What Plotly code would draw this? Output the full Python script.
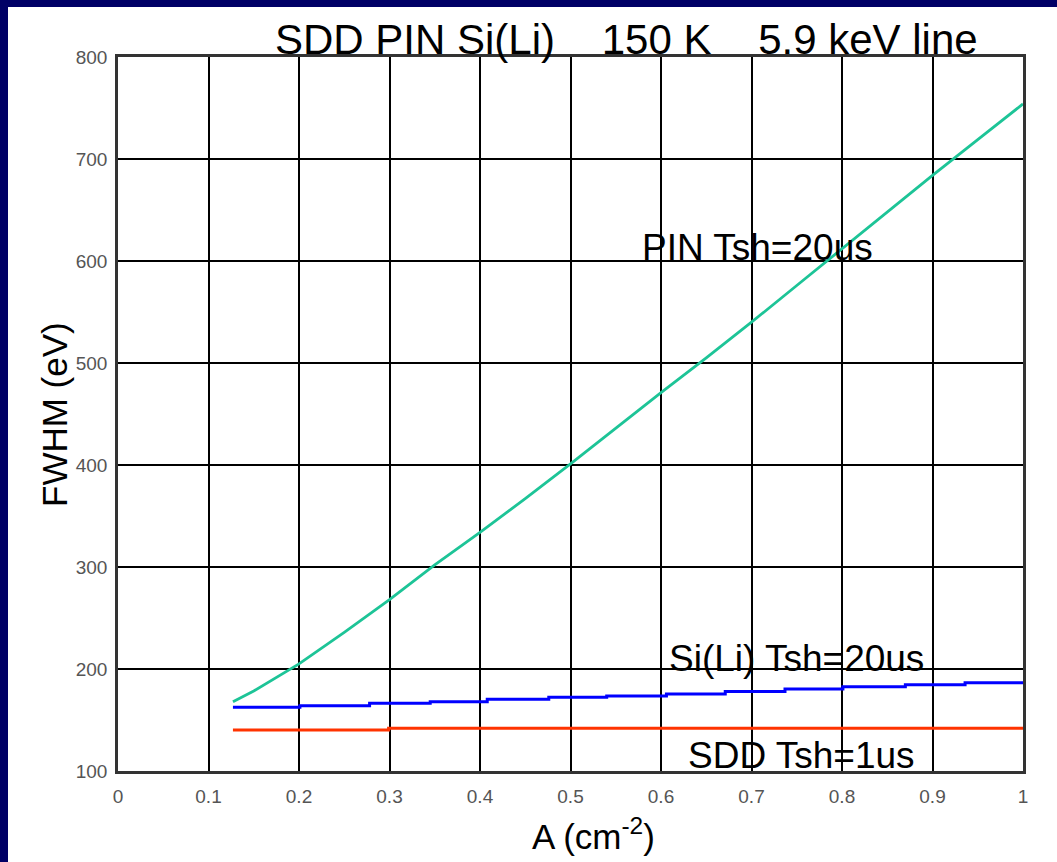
import plotly.graph_objects as go

# ---- data ----
pin_x = [0.127, 0.15, 0.2, 0.25, 0.3, 0.35, 0.4, 0.45, 0.5, 0.55, 0.6, 0.65, 0.7, 0.75, 0.8, 0.85, 0.9, 0.95, 1.0]
pin_y = [168, 178.5, 205, 236, 268, 302, 334, 367, 401, 436, 471, 505, 540, 576, 612, 648, 684, 719, 754]

sili_x = [0.127, 0.201, 0.278, 0.345, 0.408, 0.476, 0.54, 0.606, 0.671, 0.737, 0.801, 0.870, 0.936, 1.0]
sili_y = [162.5, 164, 166.4, 168, 170.3, 172.2, 173.5, 175.5, 178, 180.5, 182.5, 184.5, 186.5, 186.5]

sdd_x = [0.127, 0.299, 1.0]
sdd_y = [140.2, 142, 142]

x_ticks = [0, 0.1, 0.2, 0.3, 0.4, 0.5, 0.6, 0.7, 0.8, 0.9, 1.0]
x_tick_labels = ["0", "0.1", "0.2", "0.3", "0.4", "0.5", "0.6", "0.7", "0.8", "0.9", "1"]
y_ticks = [100, 200, 300, 400, 500, 600, 700, 800]

title_text = "SDD PIN Si(Li)\u00a0\u00a0\u00a0 150 K\u00a0\u00a0\u00a0 5.9 keV line"
labels = [
    ("PIN Tsh=20us", 0.7066, 613.7),
    ("Si(Li) Tsh=20us", 0.750, 210.3),
    ("SDD Tsh=1us", 0.7547, 115.2),
]

FONT = "Liberation Sans, Arial, sans-serif"
W, H = 1057, 862
L, R, T, B = 118, 34, 57, 91
NAVY = "#000066"

fig = go.Figure()
fig.add_trace(go.Scatter(x=pin_x, y=pin_y, mode="lines", line=dict(color="#1DC497", width=2.8),
                         showlegend=False, hoverinfo="skip"))
fig.add_trace(go.Scatter(x=sili_x, y=sili_y, mode="lines", line=dict(color="#0000FF", width=3, shape="hv"),
                         showlegend=False, hoverinfo="skip"))
fig.add_trace(go.Scatter(x=sdd_x, y=sdd_y, mode="lines", line=dict(color="#FF3300", width=3, shape="hv"),
                         showlegend=False, hoverinfo="skip"))

pw = W - L - R
ph = H - T - B

def px_to_paper_x(px):
    return (px - L) / pw

def py_to_paper_y(py):
    return (H - B - py) / ph

shapes = [
    # navy left strip
    dict(type="rect", xref="paper", yref="paper", x0=px_to_paper_x(0), x1=px_to_paper_x(8),
         y0=py_to_paper_y(H), y1=py_to_paper_y(0), fillcolor=NAVY, line=dict(width=0), layer="above"),
    # navy top strip
    dict(type="rect", xref="paper", yref="paper", x0=px_to_paper_x(0), x1=px_to_paper_x(W),
         y0=py_to_paper_y(7), y1=py_to_paper_y(0), fillcolor=NAVY, line=dict(width=0), layer="above"),
]

annotations = [
    dict(text=title_text, xref="paper", yref="paper", x=px_to_paper_x(626.5), y=py_to_paper_y(39),
         xanchor="center", yanchor="middle", showarrow=False, font=dict(family=FONT, size=42, color="black")),
    dict(text="FWHM (eV)", xref="paper", yref="paper", x=px_to_paper_x(54), y=py_to_paper_y(415),
         xanchor="center", yanchor="middle", textangle=-90, showarrow=False,
         font=dict(family=FONT, size=35, color="black")),
    dict(text="A (cm<sup>-2</sup>)", xref="paper", yref="paper", x=px_to_paper_x(593), y=py_to_paper_y(834),
         xanchor="center", yanchor="middle", showarrow=False, font=dict(family=FONT, size=35, color="black")),
]
for txt, ax, ay in labels:
    annotations.append(dict(text=txt, x=ax, y=ay, xref="x", yref="y", xanchor="center", yanchor="middle",
                            showarrow=False, font=dict(family=FONT, size=37, color="black")))

fig.update_layout(
    width=W, height=H,
    margin=dict(l=L, r=R, t=T, b=B, pad=0),
    paper_bgcolor="white", plot_bgcolor="white",
    shapes=shapes, annotations=annotations,
    font=dict(family=FONT),
)
fig.update_xaxes(range=[0, 1], tickvals=x_ticks, ticktext=x_tick_labels, showgrid=True, gridcolor="black",
                 gridwidth=2, zeroline=False, showline=True, linecolor="#333333", linewidth=2.5, mirror=True,
                 ticks="", ticklabelstandoff=6, tickfont=dict(family=FONT, size=19, color="#555555"))
fig.update_yaxes(range=[100, 800], tickvals=y_ticks, showgrid=True, gridcolor="black",
                 gridwidth=2, zeroline=False, showline=True, linecolor="#333333", linewidth=2.5, mirror=True,
                 ticks="", ticklabelstandoff=4, tickfont=dict(family=FONT, size=19, color="#555555"))

fig.write_html(
    "out.html",
    config={"displayModeBar": False},
    post_script="document.body.style.margin='0';document.body.style.overflow='hidden';",
)
